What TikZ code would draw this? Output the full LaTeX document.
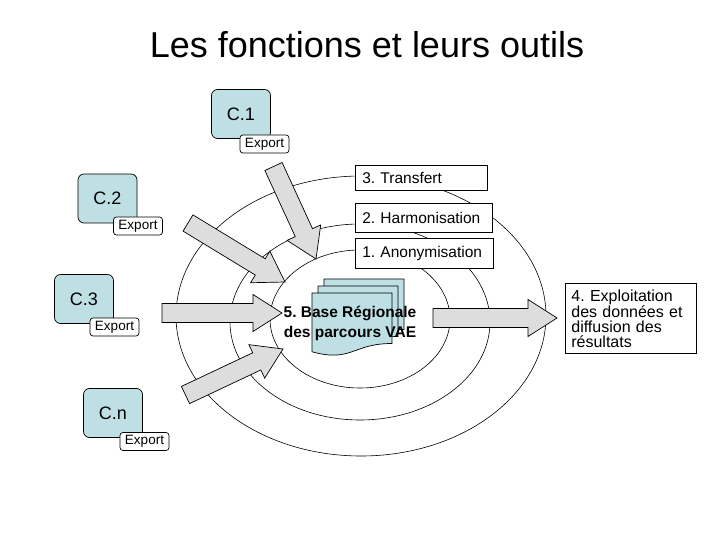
\documentclass[tikz,border=0pt]{standalone}
\usepackage{fontspec}
\setmainfont{Liberation Sans}
\frenchspacing
\usetikzlibrary{calc}
\definecolor{cblue}{RGB}{190,223,228}
\definecolor{arrowgray}{RGB}{221,221,221}
\tikzset{
  ring/.style={draw, line width=0.6bp},
  blockarrow/.style={draw, fill=arrowgray, line width=0.7bp, line join=miter},
  cbox/.style={draw, fill=cblue, rounded corners=6bp, minimum width=59bp, minimum height=49bp, line width=0.7bp, font=\fontsize{18bp}{20bp}\selectfont},
  exportbox/.style={draw, fill=white, rounded corners=3bp, minimum width=49bp, minimum height=18bp, inner sep=0pt, line width=0.7bp, font=\fontsize{13.5bp}{15bp}\selectfont},
  stepbox/.style={draw, fill=white, anchor=west, inner xsep=7bp, inner ysep=0pt, align=left, line width=0.7bp, font=\fontsize{15.5bp}{18bp}\selectfont},
  page/.style={draw, fill=cblue, line width=0.7bp}
}
% grosse fleche grise : queue #1, pointe #2
\newcommand{\grayarrow}[2]{%
  \coordinate (hb) at ($(#2)!29bp!(#1)$);
  \draw[blockarrow] ($(#1)!9.5bp!90:(#2)$) -- ($(hb)!9.5bp!-90:(#1)$) -- ($(hb)!18.5bp!-90:(#1)$) -- (#2)
    -- ($(hb)!18.5bp!90:(#1)$) -- ($(hb)!9.5bp!90:(#1)$) -- ($(#1)!9.5bp!-90:(#2)$) -- cycle;}
% feuille du document, coin haut gauche (#1,#2)
\newcommand{\docpage}[2]{%
  \draw[page] (#1,#2) -- ($(#1,#2)+(80,0)$) -- ($(#1,#2)+(80,50.5)$)
    .. controls ($(#1,#2)+(40,50.5)$) and ($(#1,#2)+(40,69.7)$) .. ($(#1,#2)+(0,58.8)$) -- cycle;}

\begin{document}
\begin{tikzpicture}[x=1bp, y=-1bp]
    \useasboundingbox (0,0) rectangle (720,540);
    \node[font=\fontsize{36bp}{40bp}\selectfont] (title) at (367,45) {Les fonctions et leurs outils};
    % les trois anneaux
    \draw[ring] (361,316) ellipse [x radius=185, y radius=140];
    \draw[ring] (360,322) ellipse [x radius=130, y radius=98];
    \draw[ring] (360,319) ellipse [x radius=90, y radius=69];
    % fleches
    \coordinate (a1) at (273.5,166.5); \coordinate (a1t) at (316,259);
    \coordinate (a2) at (188,223); \coordinate (a2t) at (285,282);
    \coordinate (a3) at (162,313); \coordinate (a3t) at (282,313);
    \coordinate (a4) at (185.5,395); \coordinate (a4t) at (283,349);
    \coordinate (a5) at (433,318); \coordinate (a5t) at (557,318);
    \foreach \s/\t in {a1/a1t, a2/a2t, a3/a3t, a4/a4t, a5/a5t} {\grayarrow{\s}{\t}}
    % etapes
    \node[stepbox, text width=118bp, minimum height=25bp] (T3) at (355,177.5) {3. Transfert};
    \node[stepbox, text width=123bp, minimum height=29bp] (T2) at (355,217.5) {2. Harmonisation};
    \node[stepbox, text width=124bp, minimum height=30bp] (T1) at (355,253) {1. Anonymisation};
    \node[stepbox, anchor=north west, text width=119bp, inner xsep=6bp, minimum height=70bp,
          font=\fontsize{16bp}{15bp}\selectfont] (T4) at (565,283) {4. Exploitation\\des données et\\diffusion des\\résultats};
    % base regionale
    \docpage{324}{279} \docpage{318}{286} \docpage{312}{293}
    \node[font=\bfseries\fontsize{15.5bp}{20bp}\selectfont, align=center] (base) at (350,323) {5. Base Régionale\\des parcours VAE};
    % centres
    \foreach \n/\lab/\cx/\cy/\ex/\ey in {C1/C.1/241/114/264.5/144, C2/C.2/107.5/198.5/138/226,
        C3/C.3/84/299/114.5/327, Cn/C.n/113/413/144.5/441.5} {
      \node[cbox] (\n) at (\cx,\cy) {\lab};
      \node[exportbox] (E\n) at (\ex,\ey) {Export};
    }
\end{tikzpicture}
\end{document}
